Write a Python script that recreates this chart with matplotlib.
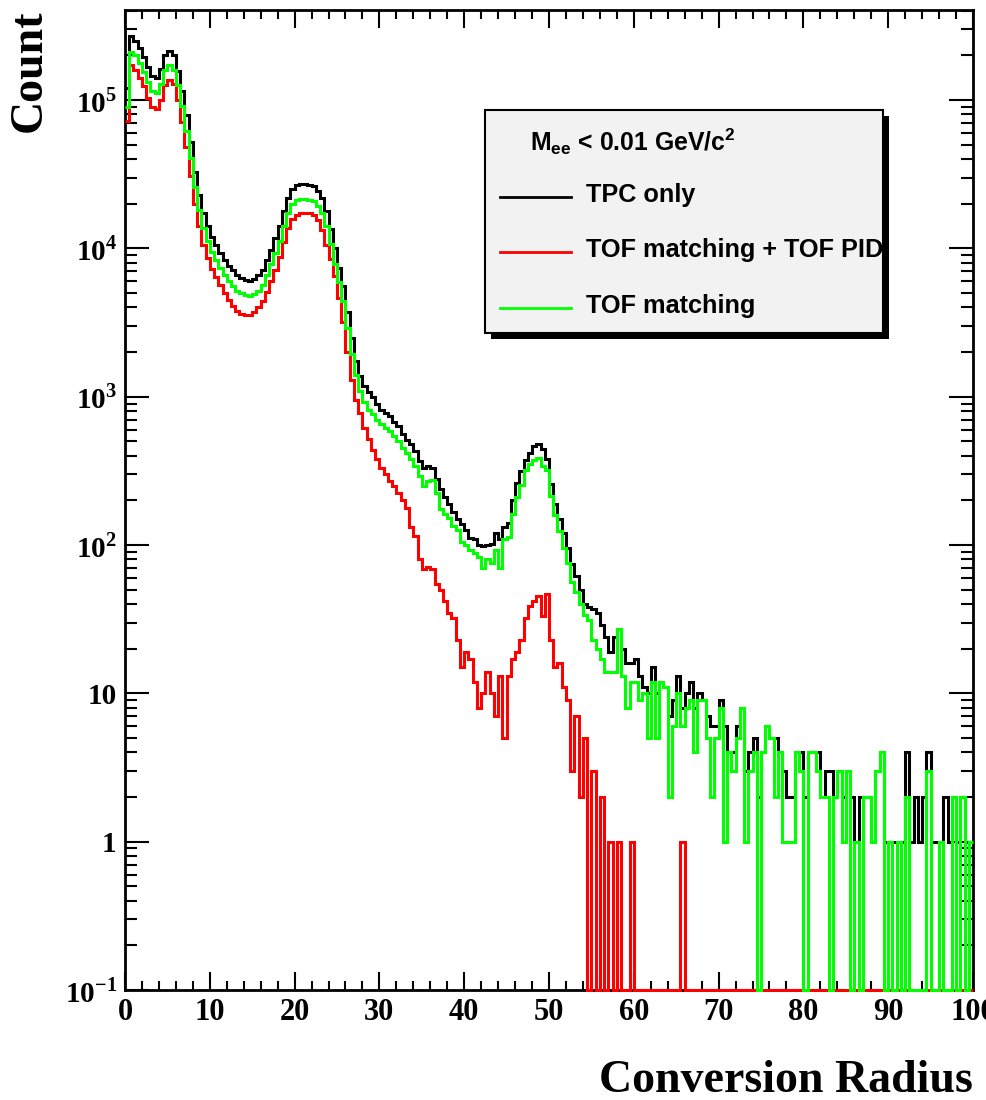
import numpy as np
import matplotlib
matplotlib.use("Agg")
import matplotlib.pyplot as plt
from matplotlib.patches import Rectangle
from matplotlib.lines import Line2D
from matplotlib.ticker import FixedLocator, FixedFormatter, MultipleLocator, NullFormatter, LogLocator

plt.rcParams['mathtext.fontset'] = 'custom'
plt.rcParams['mathtext.rm'] = 'Liberation Serif:bold'
plt.rcParams['mathtext.bf'] = 'Liberation Serif:bold'
plt.rcParams['mathtext.sf'] = 'Liberation Sans:bold'

# ---------------- data (counts per 0.5-wide bin, 0..100) ----------------
bin_width = 0.5
n_bins = 200

tpc_only = [
    120000, 270000, 250000, 224000, 195000, 166000, 145000, 141000, 162000, 200000,
    214000, 200000, 158000, 115000, 79000, 52000, 33000, 23000, 17400, 14100,
    12000, 10500, 9300, 8300, 7600, 7100, 6600, 6300, 6100, 6000,
    6200, 6600, 7200, 8300, 9800, 11700, 14100, 17800, 21900, 25100,
    26600, 27200, 27200, 26900, 26300, 24500, 21900, 17800, 13500, 10000,
    7400, 5600, 3700, 2500, 1750, 1380, 1180, 1070, 990, 900,
    810, 780, 740, 680, 630, 560, 510, 480, 430, 370,
    330, 340, 330, 280, 240, 210, 190, 166, 151, 138,
    126, 112, 110, 100, 98, 100, 102, 120, 110, 132,
    141, 200, 263, 316, 372, 417, 468, 479, 447, 380,
    260, 190, 150, 120, 96, 74, 62, 50, 40, 38,
    37, 35, 29, 24, 19, 24, 27, 20, 16, 16,
    17, 13, 11, 10, 15, 10, 12, 11, 7, 9,
    13, 8, 10, 12, 8, 10, 9, 7, 6, 6,
    9, 6, 4, 4, 6, 8, 3, 4, 5, 2,
    4, 6, 5, 5, 4, 3, 2, 2, 4, 4,
    2, 4, 4, 4, 2, 3, 3, 2, 3, 2,
    3, 2, 1, 2, 2, 2, 1, 3, 4, 1,
    1, 1, 1, 1, 4, 1, 2, 1, 2, 4,
    1, 1, 1, 2, 1, 2, 1, 2, 1, 1,
]

tof_match_pid = [
    72000, 172000, 160000, 142000, 124000, 104000, 90000, 87000, 100000, 126000,
    137000, 128000, 100000, 71000, 48000, 31000, 20000, 14100, 10600, 8600,
    7300, 6400, 5700, 5000, 4500, 4100, 3800, 3600, 3550, 3550,
    3700, 4000, 4400, 5100, 6000, 7200, 8800, 11100, 13700, 15900,
    16900, 17400, 17400, 17200, 16800, 15500, 13400, 10600, 8500, 6500,
    4600, 3200, 2000, 1300, 950, 780, 620, 520, 440, 380,
    330, 300, 270, 250, 225, 200, 178, 132, 115, 80,
    69, 71, 69, 55, 50, 42, 35, 32, 23, 15,
    19, 17, 12, 8, 10, 14, 10, 7, 13, 5,
    13, 17, 19, 23, 32, 39, 42, 45, 33, 47,
    23, 15, 16, 11, 9, 3, 7, 2, 5, 0,
    3, 0, 2, 0, 1, 0, 1, 0, 0, 1,
    0, 0, 0, 0, 0, 0, 0, 0, 0, 0,
    0, 1, 0, 0, 0, 0, 0, 0, 0, 0,
    0, 0, 0, 0, 0, 0, 0, 0, 0, 0,
    0, 0, 0, 0, 0, 0, 0, 0, 0, 0,
    0, 0, 0, 0, 0, 0, 0, 0, 0, 0,
    0, 0, 0, 0, 0, 0, 0, 0, 0, 0,
    0, 0, 0, 0, 0, 0, 0, 0, 0, 0,
    0, 0, 0, 0, 0, 0, 0, 0, 0, 0,
]

tof_match = [
    90000, 210000, 200000, 178000, 155000, 132000, 115000, 112000, 128000, 160000,
    172000, 160000, 126000, 91000, 62000, 41000, 26000, 18200, 13800, 11200,
    9500, 8300, 7400, 6600, 6000, 5600, 5200, 5000, 4850, 4800,
    4900, 5200, 5700, 6600, 7800, 9300, 11200, 14100, 17400, 19900,
    21100, 21500, 21500, 21300, 20800, 19400, 17400, 14100, 10700, 7900,
    5900, 4400, 2900, 1950, 1400, 1100, 920, 820, 760, 700,
    650, 620, 590, 540, 500, 450, 417, 380, 339, 290,
    250, 270, 275, 224, 175, 162, 152, 135, 126, 105,
    100, 92, 88, 83, 70, 80, 76, 92, 70, 110,
    114, 162, 210, 255, 321, 350, 375, 388, 340, 320,
    215, 160, 125, 96, 76, 56, 48, 40, 34, 31,
    23, 20, 17, 14, 14, 14, 27, 13, 8, 12,
    12, 9, 10, 5, 12, 5, 12, 11, 2, 6,
    10, 6, 8, 9, 4, 9, 9, 5, 2, 5,
    8, 1, 4, 3, 5, 8, 1, 3, 4, 0,
    4, 6, 5, 2, 4, 1, 1, 1, 4, 3,
    0, 4, 4, 3, 2, 2, 0, 2, 3, 1,
    3, 0, 1, 0, 2, 2, 1, 3, 4, 0,
    1, 0, 1, 0, 2, 0, 0, 0, 0, 3,
    0, 0, 1, 0, 0, 2, 0, 2, 0, 1,
]

series_labels = ["TPC only", "TOF matching + TOF PID", "TOF matching"]
series_colors = ["#000000", "#ff0000", "#00ff00"]
header_text = r"$\mathsf{M_{ee}}$ < 0.01 GeV/c$^{\mathsf{2}}$"
xlabel = "Conversion Radius"
ylabel = "Count"
ytick_values = [0.1, 1, 10, 100, 1000, 10000, 100000]
ytick_labels = [r"$10^{-1}$", "1", "10", r"$10^{2}$", r"$10^{3}$", r"$10^{4}$", r"$10^{5}$"]

# ---------------- figure ----------------
W, H = 986, 1100
fig = plt.figure(figsize=(W / 100, H / 100), dpi=100)


def fx(px):
    return px / W


def fy(py):
    return 1 - py / H


ax = fig.add_axes([fx(125), fy(990), fx(973) - fx(125), fy(10) - fy(990)])
ax.set_yscale("log")
ymin, ymax = 0.1, 4.05e5
ax.set_xlim(0, 100)
ax.set_ylim(ymin, ymax)

edges = np.arange(n_bins + 1) * bin_width
for vals, col in zip([tpc_only, tof_match_pid, tof_match], series_colors):
    v = np.maximum(np.asarray(vals, dtype=float), ymin)  # empty bins drawn on the floor (ROOT style)
    ax.stairs(v, edges, baseline=None, color=col, lw=2.2, zorder=3, clip_on=False)

for s in ax.spines.values():
    s.set_linewidth(2.0)
    s.set_zorder(2.5)

ax.xaxis.set_major_locator(MultipleLocator(10))
ax.xaxis.set_minor_locator(MultipleLocator(2))
ax.yaxis.set_major_locator(FixedLocator(ytick_values))
ax.yaxis.set_major_formatter(FixedFormatter(ytick_labels))
ax.yaxis.set_minor_locator(LogLocator(base=10, subs=np.arange(2, 10)))
ax.yaxis.set_minor_formatter(NullFormatter())

ax.tick_params(which="both", direction="in", top=True, right=True, width=1.5)
ax.tick_params(axis="x", which="major", length=13, pad=6)
ax.tick_params(axis="x", which="minor", length=6.5)
ax.tick_params(axis="y", which="major", length=17, pad=6)
ax.tick_params(axis="y", which="minor", length=8.5)

for lab in ax.get_xticklabels():
    lab.set_fontfamily("Liberation Serif")
    lab.set_fontweight("bold")
    lab.set_fontsize(22)
for lab in ax.get_yticklabels():
    lab.set_fontfamily("Liberation Serif")
    lab.set_fontweight("bold")
    lab.set_fontsize(21)

fig.text(fx(30), fy(10), ylabel, rotation=90, ha="center", va="top",
         fontfamily="Liberation Serif", fontweight="bold", fontsize=33)
fig.text(fx(973), fy(1081), xlabel, ha="right", va="center",
         fontfamily="Liberation Serif", fontweight="bold", fontsize=33)

# ---------------- legend box (ROOT TLegend look) ----------------
bx0, by0, bx1, by1 = 485, 110, 883, 333
sh = 6
fig.patches.append(Rectangle((fx(bx0 + sh), fy(by1 + sh)), fx(bx1) - fx(bx0), fy(by0) - fy(by1),
                             transform=fig.transFigure, facecolor="black", edgecolor="none", zorder=10))
fig.patches.append(Rectangle((fx(bx0), fy(by1)), fx(bx1) - fx(bx0), fy(by0) - fy(by1),
                             transform=fig.transFigure, facecolor="#f2f2f2", edgecolor="black",
                             lw=1.5, zorder=11))
fig.text(fx(530), fy(142), header_text, ha="left", va="center", fontfamily="Liberation Sans",
         fontweight="bold", fontsize=17.8, zorder=12)
entry_y = [195, 250, 306]
for lab, col, yy in zip(series_labels, series_colors, entry_y):
    fig.lines.append(Line2D([fx(500), fx(571)], [fy(yy + 2), fy(yy + 2)], transform=fig.transFigure,
                            color=col, lw=2.0, zorder=12))
    fig.text(fx(586), fy(yy), lab, ha="left", va="center", fontfamily="Liberation Sans",
             fontweight="bold", fontsize=18.2, zorder=12)

fig.savefig("out.png", dpi=100)
